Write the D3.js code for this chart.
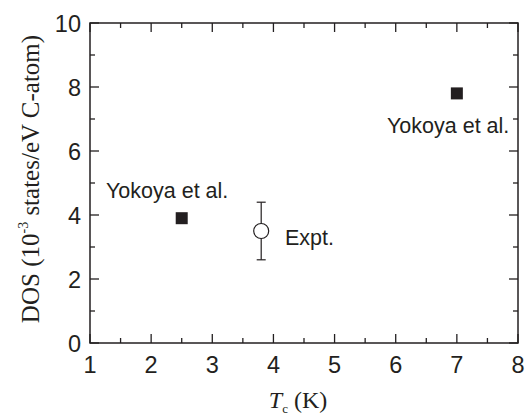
<!DOCTYPE html>
<html><head><meta charset="utf-8">
<script src="https://cdn.jsdelivr.net/npm/d3@7"></script>
<style>body{margin:0;background:#fff}</style>
</head><body>
<svg id="c" width="529" height="416"></svg>
<script>
const yokoyaTc = [2.5, 7.0];
const yokoyaDOS = [3.9, 7.8];
const yokoyaLabels = ["Yokoya et al.", "Yokoya et al."];
const exptTc = [3.8];
const exptDOS = [3.5];
const exptErrLow = [2.6];
const exptErrHigh = [4.4];
const xTicks = [1,2,3,4,5,6,7,8];
const yTicks = [0,2,4,6,8,10];

const svg = d3.select("#c");
const L=90, R=518, T=23, B=343;
const x = d3.scaleLinear().domain([1,8]).range([L,R]);
const y = d3.scaleLinear().domain([0,10]).range([B,T]);
const col = "#231f20";

svg.append("rect").attr("x",L).attr("y",T).attr("width",R-L).attr("height",B-T)
  .attr("fill","none").attr("stroke",col).attr("stroke-width",1.5);

const xMinor = d3.range(1.5,8,1);
const yMinor = d3.range(1,10,2);
function ticks(){
  const g = svg.append("g").attr("stroke",col).attr("stroke-width",1.3);
  xTicks.forEach(v=>{ g.append("line").attr("x1",x(v)).attr("x2",x(v)).attr("y1",B).attr("y2",B-9);
    g.append("line").attr("x1",x(v)).attr("x2",x(v)).attr("y1",T).attr("y2",T+9);});
  xMinor.forEach(v=>{ g.append("line").attr("x1",x(v)).attr("x2",x(v)).attr("y1",B).attr("y2",B-5);
    g.append("line").attr("x1",x(v)).attr("x2",x(v)).attr("y1",T).attr("y2",T+5);});
  yTicks.forEach(v=>{ g.append("line").attr("y1",y(v)).attr("y2",y(v)).attr("x1",L).attr("x2",L+9);
    g.append("line").attr("y1",y(v)).attr("y2",y(v)).attr("x1",R).attr("x2",R-9);});
  yMinor.forEach(v=>{ g.append("line").attr("y1",y(v)).attr("y2",y(v)).attr("x1",L).attr("x2",L+5);
    g.append("line").attr("y1",y(v)).attr("y2",y(v)).attr("x1",R).attr("x2",R-5);});
}
ticks();

const tf = "Liberation Sans, Arial, sans-serif";
svg.append("g").selectAll("text").data(xTicks).join("text")
  .attr("x",d=>x(d)).attr("y",373).attr("text-anchor","middle")
  .attr("font-family",tf).attr("font-size",23.5).attr("fill",col).text(d=>d);
svg.append("g").selectAll("text").data(yTicks).join("text")
  .attr("x",81).attr("y",d=>y(d)+9).attr("text-anchor","end")
  .attr("font-family",tf).attr("font-size",23.5).attr("fill",col).text(d=>d);

// axis titles
const sf = "Liberation Serif, Times New Roman, serif";
const xt = svg.append("text").attr("x",298).attr("y",408).attr("text-anchor","middle")
  .attr("font-family",sf).attr("font-size",24).attr("fill",col);
xt.append("tspan").attr("font-style","italic").text("T");
xt.append("tspan").attr("font-size",13).attr("dy",5).text("c");
xt.append("tspan").attr("dy",-5).text(" (K)");

const yt = svg.append("text").attr("transform",`translate(39,179) rotate(-90)`)
  .attr("text-anchor","middle").attr("font-family",sf).attr("font-size",25).attr("fill",col);
yt.append("tspan").text("DOS (10");
yt.append("tspan").attr("font-size",14).attr("dy",-11).text("-3");
yt.append("tspan").attr("dy",11).text(" states/eV C-atom)");

// error bar
exptTc.forEach((t,i)=>{
  const g = svg.append("g").attr("stroke",col).attr("stroke-width",1.2);
  g.append("line").attr("x1",x(t)).attr("x2",x(t)).attr("y1",y(exptErrLow[i])).attr("y2",y(exptErrHigh[i]));
  g.append("line").attr("x1",x(t)-4.5).attr("x2",x(t)+4.5).attr("y1",y(exptErrLow[i])).attr("y2",y(exptErrLow[i]));
  g.append("line").attr("x1",x(t)-4.5).attr("x2",x(t)+4.5).attr("y1",y(exptErrHigh[i])).attr("y2",y(exptErrHigh[i]));
  g.append("circle").attr("cx",x(t)).attr("cy",y(exptDOS[i])).attr("r",7.5).attr("fill","#fff");
});
svg.append("text").attr("x",285).attr("y",y(exptDOS[0])+14)
  .attr("font-family",tf).attr("font-size",21.5).attr("fill",col).text("Expt.");

// squares
svg.append("g").selectAll("rect").data(yokoyaTc).join("rect")
  .attr("x",d=>x(d)-6).attr("y",(d,i)=>y(yokoyaDOS[i])-6).attr("width",12).attr("height",12).attr("fill",col);

const lblPos = [{x:106, y:198},{x:387, y:133}];
svg.append("g").selectAll("text").data(yokoyaLabels).join("text")
  .attr("x",(d,i)=>lblPos[i].x).attr("y",(d,i)=>lblPos[i].y)
  .attr("font-family",tf).attr("font-size",21.5).attr("fill",col).text(d=>d);
</script>
</body></html>
